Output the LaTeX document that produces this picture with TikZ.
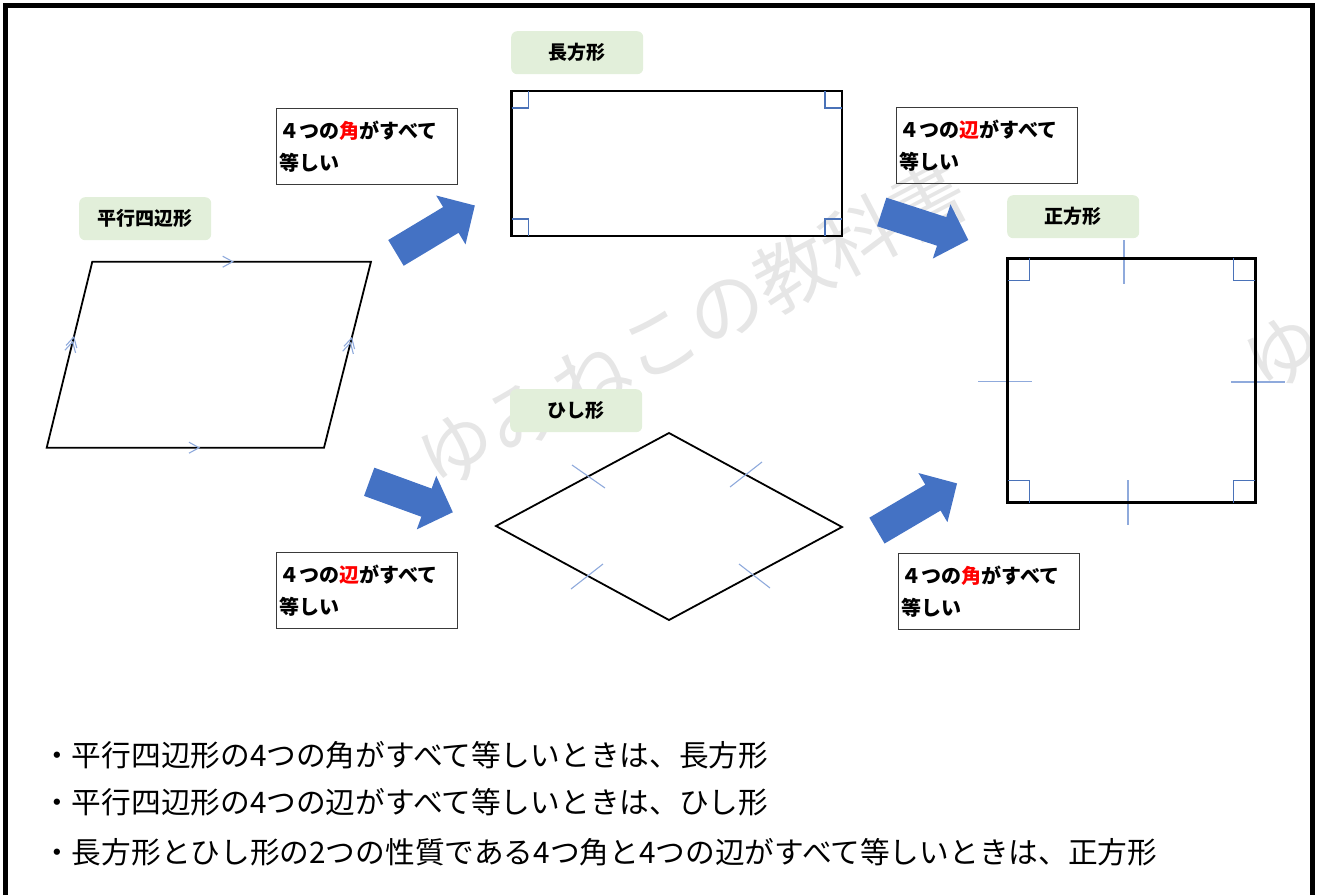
\documentclass[tikz,border=0pt]{standalone}
\usepackage{fontspec}
\setmainfont{Noto Sans CJK JP}
\definecolor{lgreen}{HTML}{E2EFDA}
\definecolor{ablue}{HTML}{4472C4}
\definecolor{tblue}{HTML}{8FAADC}
\definecolor{mblue}{HTML}{4A72B8}
\definecolor{rred}{HTML}{FF0000}
\definecolor{wmark}{HTML}{E6E6E6}
\definecolor{boxline}{HTML}{3A3A3A}
\tikzset{
  lbl/.style={fill=lgreen, rounded corners=6pt, minimum width=132pt, minimum height=43pt, inner sep=0pt, font=\fontsize{19}{22}\selectfont\bfseries, anchor=north west},
  cond/.style={draw=boxline, line width=1.2pt, minimum height=76pt, text width=175pt, align=left, inner xsep=3pt, inner ysep=0pt, font=\fontsize{20}{32}\selectfont\bfseries, anchor=north west},
  figline/.style={line width=2.8pt, line join=miter},
  thinfig/.style={line width=1.8pt, line join=miter},
  rmark/.style={draw=mblue, line width=1.3pt},
  tickc/.style={draw=tblue, line width=1.1pt},
  wm/.style={text=wmark, font=\fontsize{76}{80}\selectfont, inner sep=0pt},
  notetext/.style={anchor=west, inner sep=0pt, font=\fontsize{29.7}{31}\selectfont},
  chev/.pic={\draw[tickc] (-10pt,5.5pt) -- (0,0) -- (-10pt,-5.5pt);},
  dchev/.pic={\draw[tickc] (-10pt,5.5pt) -- (0,0) -- (-10pt,-5.5pt) (-15pt,5.5pt) -- (-5pt,0) -- (-15pt,-5.5pt);},
  blockarrow/.pic={\fill[ablue] (-\pgfkeysvalueof{/tikz/arrlen}/2,-15pt) -- (\pgfkeysvalueof{/tikz/arrlen}/2-28pt,-15pt) -- (\pgfkeysvalueof{/tikz/arrlen}/2-28pt,-28.5pt) -- (\pgfkeysvalueof{/tikz/arrlen}/2,0pt) -- (\pgfkeysvalueof{/tikz/arrlen}/2-28pt,28.5pt) -- (\pgfkeysvalueof{/tikz/arrlen}/2-28pt,15pt) -- (-\pgfkeysvalueof{/tikz/arrlen}/2,15pt) -- cycle;},
  arrlen/.initial=92pt,
}
\begin{document}
\begin{tikzpicture}[x=1pt,y=-1pt]
\useasboundingbox (0,0) rectangle (1317,895);
% watermark
\begin{scope}
  \clip (0,0) rectangle (1317,895);
  \node[wm, rotate=27.7] (wm1) at (692,325) {ゆみねこの教科書};
  \node[wm, rotate=27.7] (wm2) at (1518,228) {ゆみねこの教科書};
\end{scope}
% frame
\draw[line width=5pt] (5.8,895) -- (5.8,5) -- (1312,5) -- (1312,895);
% shape labels
\node[lbl] (lp) at (79,197) {平行四辺形};
\node[lbl] (lr) at (511,31) {長方形};
\node[lbl] (ls) at (1007,195) {正方形};
\node[lbl] (lh) at (510,389) {ひし形};
% parallelogram
\coordinate (p1) at (92.3,261.7);
\coordinate (p2) at (371,261.7);
\coordinate (p3) at (324,447.7);
\coordinate (p4) at (46.7,447.7);
\draw[thinfig] (p1) -- (p2) -- (p3) -- (p4) -- cycle;
\pic at (232.7,261.7) {chev};
\pic at (199,447.7) {chev};
\pic[rotate=76.2] at (73.8,337) {dchev};
\pic[rotate=75.8] at (351.7,338) {dchev};
% rectangle
\draw[figline] (511.7,91) rectangle (842,236);
\draw[rmark] (511.7,108) -| (528.7,91);
\draw[rmark] (842,108) -| (825,91);
\draw[rmark] (511.7,219) -| (528.7,236);
\draw[rmark] (842,219) -| (825,236);
% square
\draw[tickc] (1124,240) -- (1124,284);
\draw[tickc] (1128,480) -- (1128,525);
\draw[tickc] (978,381.5) -- (1032,381.5);
\draw[tickc] (1231,382) -- (1285,382);
\draw[figline] (1007.7,258.3) rectangle (1255.3,502.7);
\draw[rmark] (1007.7,280.3) -| (1029.7,258.3);
\draw[rmark] (1255.3,280.3) -| (1233.3,258.3);
\draw[rmark] (1007.7,480.7) -| (1029.7,502.7);
\draw[rmark] (1255.3,480.7) -| (1233.3,502.7);
% rhombus
\coordinate (r1) at (496,526);
\coordinate (r2) at (669,433);
\coordinate (r3) at (842,527);
\coordinate (r4) at (669,620);
\draw[thinfig] (r1) -- (r2) -- (r3) -- (r4) -- cycle;
\draw[tickc] (572,465) -- (605,488);
\draw[tickc] (730,487) -- (762,462);
\draw[tickc] (571,589) -- (603,564);
\draw[tickc] (739,564) -- (770,588);
% condition boxes
\node[cond] (c1) at (276,108) {４つの\textcolor{rred}{角}がすべて\\等しい};
\node[cond] (c2) at (896,107) {４つの\textcolor{rred}{辺}がすべて\\等しい};
\node[cond] (c3) at (276,552) {４つの\textcolor{rred}{辺}がすべて\\等しい};
\node[cond] (c4) at (898,553) {４つの\textcolor{rred}{角}がすべて\\等しい};
% block arrows
\pic[rotate=31, arrlen=92pt] (a1) at (435.4,229.2) {blockarrow};
\pic[rotate=-18, arrlen=91pt] (a2) at (925,226) {blockarrow};
\pic[rotate=-20, arrlen=89pt] (a3) at (411,497) {blockarrow};
\pic[rotate=30.5, arrlen=93pt] (a4) at (917,507) {blockarrow};
% notes
\node[notetext] (n1) at (42,755) {・平行四辺形の4つの角がすべて等しいときは、長方形};
\node[notetext] (n2) at (42,802) {・平行四辺形の4つの辺がすべて等しいときは、ひし形};
\node[notetext] (n3) at (42,852) {・長方形とひし形の2つの性質である4つ角と4つの辺がすべて等しいときは、正方形};
\end{tikzpicture}
\end{document}
